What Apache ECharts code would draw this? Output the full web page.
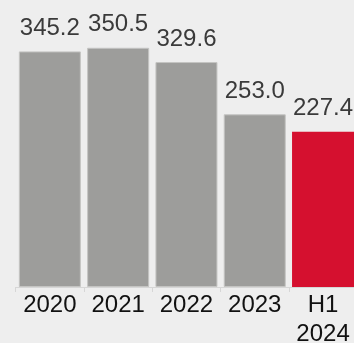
<!DOCTYPE html>
<html>
<head>
<meta charset="utf-8">
<script src="https://cdn.jsdelivr.net/npm/echarts@6/dist/echarts.min.js"></script>
<style>
  html, body { margin: 0; padding: 0; background: #eeeeee; }
  #chart { width: 354px; height: 343px; }
</style>
</head>
<body>
<div id="chart"></div>
<script>
// Annual values with the latest half-year highlighted
const categories = ['2020', '2021', '2022', '2023', 'H1\n2024'];
const values = [345.2, 350.5, 329.6, 253.0, 227.4];
const highlightIndex = 4;

const grey = '#9d9d9b';
const red = '#d5102f';

const chart = echarts.init(document.getElementById('chart'));
chart.setOption({
  backgroundColor: '#eeeeee',
  animation: false,
  grid: {
    left: 15.7, top: 14, width: 341.5, bottom: 56,
    containLabel: false,
    outerBoundsMode: 'none'
  },
  xAxis: {
    type: 'category',
    data: categories,
    axisLine: { lineStyle: { color: '#d6d6d6', width: 1 } },
    axisTick: { show: true, length: 5, lineStyle: { color: '#d6d6d6' } },
    axisLabel: {
      color: '#111111',
      fontFamily: 'Liberation Sans, Arial, sans-serif',
      fontSize: 24,
      lineHeight: 29,
      margin: 4,
      interval: 0
    }
  },
  yAxis: {
    type: 'value',
    min: 0,
    max: 400,
    show: false
  },
  series: [{
    type: 'bar',
    barCategoryGap: '9.2%',
    data: values.map((v, i) => ({
      value: v,
      itemStyle: i === highlightIndex
        ? { color: red }
        : { color: grey, borderColor: '#c4c4c2', borderWidth: 1 }
    })),
    label: {
      show: true,
      position: 'top',
      distance: 11,
      color: '#3a3a3a',
      fontFamily: 'Liberation Sans, Arial, sans-serif',
      fontSize: 24,
      formatter: p => p.value.toFixed(1)
    }
  }]
});
</script>
</body>
</html>
